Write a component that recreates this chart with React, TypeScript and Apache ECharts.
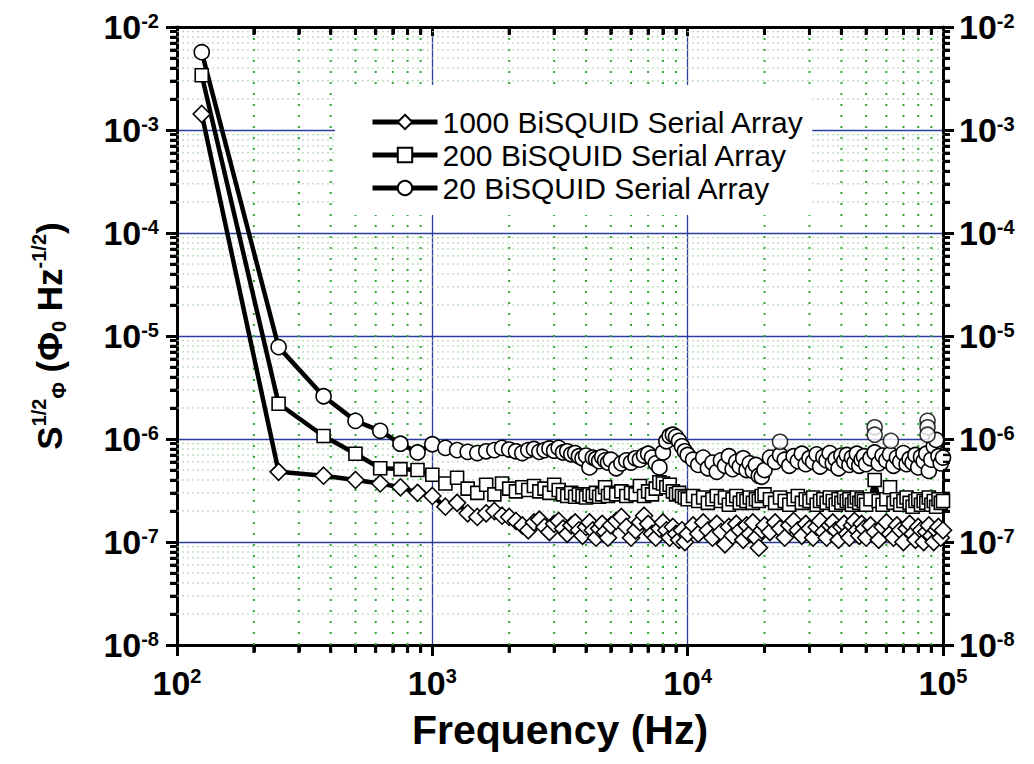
import React, { useEffect, useRef } from "react";
import * as echarts from "echarts";

// Frequencies (Hz) at which the three spectra are sampled
const freqHz = [
  125, 250, 375, 500, 625, 750, 875, 1000, 1125, 1250, 1375, 1500, 1625, 1750, 1875, 2000,
  2125, 2250, 2375, 2500, 2625, 2750, 2875, 3000, 3125, 3250, 3375, 3500, 3625, 3750, 3875, 4000,
  4125, 4250, 4375, 4500, 4625, 4750, 4875, 5000,
  5250, 5500, 5750, 6000, 6250, 6500, 6750, 7000, 7250, 7500,
  7750, 8000, 8250, 8500, 8750, 9000, 9250, 9500, 9750, 10000,
  10500, 11000, 11500, 12000, 12500, 13000, 13500, 14000, 14500, 15000,
  15500, 16000, 16500, 17000, 17500, 18000, 18500, 19000, 19500, 20000,
  21000, 22000, 23000, 24000, 25000, 26000, 27000, 28000, 29000, 30000,
  31000, 32000, 33000, 34000, 35000, 36000, 37000, 38000, 39000, 40000,
  41000, 42000, 43000, 44000, 45000, 46000, 47000, 48000, 49000, 50000,
  52000, 54000, 56000, 58000, 60000, 62000, 64000, 66000, 68000, 70000,
  72000, 74000, 76000, 78000, 80000, 82000, 84000, 86000, 88000, 90000,
  92000, 94000, 96000, 98000, 100000,
];

// 1000 BiSQUID serial array (diamonds)
const noise1000 = [
  1.43e-3, 4.8e-7, 4.4e-7, 4.0e-7, 3.7e-7, 3.4e-7, 3.0e-7, 2.8e-7, 2.2e-7, 2.4e-7, 1.9e-7, 1.75e-7, 1.9e-7, 2.0e-7, 1.8e-7, 1.75e-7,
  1.6e-7, 1.45e-7, 1.3e-7, 1.55e-7, 1.65e-7, 1.4e-7, 1.25e-7, 1.5e-7, 1.6e-7, 1.35e-7,
  1.2e-7, 1.45e-7, 1.55e-7, 1.3e-7, 1.15e-7, 1.4e-7, 1.55e-7, 1.3e-7, 1.1e-7, 1.35e-7,
  1.5e-7, 1.25e-7, 1.1e-7, 1.45e-7,
  1.6e-7, 1.75e-7, 1.4e-7, 1.1e-7, 1.3e-7, 1.55e-7, 1.8e-7, 1.5e-7, 1.2e-7, 1.1e-7,
  1.35e-7, 1.55e-7, 1.3e-7, 1.1e-7, 1.4e-7, 1.2e-7, 1.05e-7, 1.3e-7, 1.0e-7, 1.2e-7,
  1.45e-7, 1.2e-7, 1.55e-7, 1.3e-7, 1.1e-7, 1.5e-7, 1.25e-7, 0.95e-7, 1.4e-7, 1.15e-7,
  1.5e-7, 1.3e-7, 1.05e-7, 1.45e-7, 1.2e-7, 1.55e-7, 1.1e-7, 0.88e-7, 1.3e-7, 1.45e-7,
  1.25e-7, 1.55e-7, 1.35e-7, 1.1e-7, 1.45e-7, 1.6e-7, 1.3e-7, 1.15e-7, 1.5e-7, 1.35e-7,
  1.1e-7, 1.4e-7, 1.6e-7, 1.25e-7, 1.1e-7, 1.45e-7, 1.55e-7, 1.3e-7, 1.05e-7, 1.4e-7,
  1.5e-7, 1.2e-7, 1.1e-7, 1.45e-7, 1.6e-7, 1.3e-7, 1.15e-7, 1.5e-7, 1.35e-7, 1.1e-7,
  1.45e-7, 1.25e-7, 1.05e-7, 1.4e-7, 1.55e-7, 1.2e-7, 1.1e-7, 1.45e-7, 1.3e-7, 1.0e-7,
  1.35e-7, 1.5e-7, 1.2e-7, 1.05e-7, 1.4e-7, 1.3e-7, 1.0e-7, 1.25e-7, 1.45e-7, 1.15e-7,
  1.0e-7, 1.3e-7, 1.4e-7, 1.1e-7, 1.3e-7,
];

// 200 BiSQUID serial array (squares)
const noise200 = [
  3.4e-3, 2.2e-6, 1.07e-6, 7.2e-7, 5.2e-7, 5.1e-7, 5.0e-7, 4.5e-7, 3.7e-7, 4.2e-7, 3.3e-7, 3.0e-7, 3.6e-7, 2.9e-7, 3.7e-7, 3.3e-7,
  3.1e-7, 3.4e-7, 3.2e-7, 3.5e-7, 3.1e-7, 3.3e-7, 3.0e-7, 3.6e-7, 3.2e-7, 2.9e-7,
  2.8e-7, 3.0e-7, 2.75e-7, 2.9e-7, 2.8e-7, 2.7e-7, 2.9e-7, 2.8e-7, 3.0e-7, 2.75e-7,
  2.9e-7, 3.4e-7, 2.8e-7, 3.0e-7,
  2.9e-7, 3.1e-7, 2.8e-7, 3.0e-7, 2.9e-7, 3.5e-7, 2.8e-7, 3.1e-7, 2.9e-7, 3.3e-7,
  3.8e-7, 3.7e-7, 3.4e-7, 3.6e-7, 3.1e-7, 2.9e-7, 3.0e-7, 2.8e-7, 2.7e-7, 2.6e-7,
  2.8e-7, 2.5e-7, 2.7e-7, 2.4e-7, 2.6e-7, 2.8e-7, 2.5e-7, 2.7e-7, 2.3e-7, 2.6e-7,
  2.8e-7, 2.4e-7, 2.6e-7, 2.5e-7, 2.7e-7, 2.4e-7, 2.6e-7, 2.5e-7, 2.8e-7, 2.9e-7,
  2.6e-7, 2.4e-7, 2.7e-7, 2.5e-7, 2.3e-7, 2.6e-7, 2.8e-7, 2.4e-7, 2.6e-7, 2.5e-7,
  2.7e-7, 2.3e-7, 2.5e-7, 2.6e-7, 2.4e-7, 2.7e-7, 2.5e-7, 2.3e-7, 2.6e-7, 2.4e-7,
  2.7e-7, 2.5e-7, 2.6e-7, 2.3e-7, 2.5e-7, 2.7e-7, 2.4e-7, 2.6e-7, 2.5e-7, 2.3e-7,
  2.6e-7, 4.0e-7, 2.5e-7, 2.3e-7, 2.6e-7, 3.4e-7, 2.4e-7, 2.6e-7, 2.3e-7, 2.5e-7,
  2.7e-7, 2.4e-7, 2.2e-7, 2.5e-7, 2.6e-7, 2.3e-7, 2.5e-7, 2.4e-7, 2.7e-7, 2.3e-7,
  2.5e-7, 2.2e-7, 2.6e-7, 2.4e-7, 2.5e-7,
];

// 20 BiSQUID serial array (circles)
const noise20 = [
  5.7e-3, 7.8e-6, 2.6e-6, 1.5e-6, 1.2e-6, 9.0e-7, 7.4e-7, 8.9e-7, 8.2e-7, 7.8e-7, 7.5e-7, 7.3e-7, 7.6e-7, 7.8e-7, 8.2e-7, 7.9e-7,
  7.6e-7, 7.3e-7, 7.8e-7, 8.0e-7, 7.5e-7, 7.8e-7, 8.1e-7, 7.7e-7, 8.2e-7, 7.4e-7,
  7.6e-7, 7.1e-7, 7.3e-7, 6.8e-7, 6.5e-7, 6.9e-7, 5.3e-7, 6.6e-7, 6.4e-7, 6.1e-7,
  6.7e-7, 6.2e-7, 5.9e-7, 6.3e-7,
  5.2e-7, 5.8e-7, 6.2e-7, 5.9e-7, 6.5e-7, 6.3e-7, 6.9e-7, 7.2e-7, 6.6e-7, 5.8e-7,
  5.3e-7, 7.4e-7, 9.5e-7, 1.07e-6, 1.1e-6, 1.05e-6, 9.6e-7, 8.5e-7, 7.6e-7, 7.0e-7,
  6.3e-7, 5.6e-7, 6.6e-7, 5.2e-7, 5.9e-7, 4.8e-7, 6.2e-7, 5.5e-7, 6.8e-7, 5.1e-7,
  6.0e-7, 5.4e-7, 6.5e-7, 5.0e-7, 5.8e-7, 4.9e-7, 5.6e-7, 4.4e-7, 4.3e-7, 5.0e-7,
  6.6e-7, 6.0e-7, 7.0e-7, 6.3e-7, 5.5e-7, 6.8e-7, 6.1e-7, 7.2e-7, 5.7e-7, 6.5e-7,
  6.0e-7, 7.1e-7, 5.4e-7, 6.7e-7, 6.2e-7, 7.3e-7, 5.8e-7, 6.4e-7, 5.2e-7, 6.9e-7,
  6.1e-7, 7.0e-7, 5.6e-7, 6.6e-7, 5.9e-7, 7.2e-7, 5.5e-7, 6.3e-7, 6.8e-7, 5.7e-7,
  6.5e-7, 7.4e-7, 5.8e-7, 6.9e-7, 6.2e-7, 7.1e-7, 5.5e-7, 6.6e-7, 6.0e-7, 7.3e-7,
  5.7e-7, 6.4e-7, 5.9e-7, 7.0e-7, 5.3e-7, 6.7e-7, 6.1e-7, 7.2e-7, 4.9e-7, 6.3e-7,
  8.5e-7, 9.8e-7, 6.8e-7, 5.8e-7, 6.6e-7,
];

// isolated spikes recorded on top of the 20-array spectrum
const spikes20: [number, number][] = [
  [23000, 9.4e-7], [54000, 1.3e-6], [54000, 1.1e-6], [62500, 9.6e-7],
  [87000, 1.5e-6], [87000, 1.3e-6], [87000, 1.1e-6],
];

const seriesNames = [
  "1000 BiSQUID Serial Array",
  "200 BiSQUID Serial Array",
  "20 BiSQUID Serial Array",
];

// minor tick positions
const xMinorTicks = [
  200, 300, 400, 500, 600, 700, 800, 900,
  2000, 3000, 4000, 5000, 6000, 7000, 8000, 9000,
  20000, 30000, 40000, 50000, 60000, 70000, 80000, 90000,
];
const yMinorMantissas = [2, 3, 4, 5, 6, 7, 8, 9];
const yDecades = [-8, -7, -6, -5, -4, -3];
const yMinorTicks = yDecades.flatMap((e) => yMinorMantissas.map((m) => m * Math.pow(10, e)));

const FONT = "'Liberation Sans', Arial, sans-serif";

const powLabel = (v: number) => {
  const e = Math.round(Math.log10(v));
  return `{b|10}{s|${e}}`;
};

const labelRich = {
  b: { fontSize: 34, fontWeight: "bold", fontFamily: FONT, color: "#000", lineHeight: 33 },
  s: { fontSize: 20, fontWeight: "bold", fontFamily: FONT, color: "#000", lineHeight: 18, verticalAlign: "top" },
};

const X_RANGE = { min: 100, max: 100000 };
const Y_RANGE = { min: 1e-8, max: 1e-2 };

const minorAxis = (position: string, values: number[], inside: boolean, range: any) => ({
  type: "log",
  logBase: 10,
  ...range,
  position,
  axisLine: { show: false, onZero: false },
  axisTick: { show: true, inside, length: 7, customValues: values, lineStyle: { color: "#000", width: 3 } },
  axisLabel: { show: false },
  splitLine: { show: false },
  silent: true,
});

export default function App() {
  const ref = useRef<HTMLDivElement>(null);

  useEffect(() => {
    document.body.style.margin = "0";
    if (!ref.current) return;
    const chart = echarts.init(ref.current, null, { renderer: "svg" });

    const lineData = (vals: number[]) => freqHz.map((f, i) => [f, vals[i]]);

    const common = {
      type: "line",
      showAllSymbol: true,
      lineStyle: { color: "#000", width: 4.5 },
      itemStyle: { color: "#fff", borderColor: "#000", borderWidth: 1.6 },
      z: 5,
    };

    const xMinorRender = (params: any, api: any) => {
      const cs = params.coordSys;
      const x = api.coord([api.value(0), 1e-5])[0];
      return {
        type: "line",
        shape: { x1: x, y1: cs.y, x2: x, y2: cs.y + cs.height },
        style: { stroke: "#2ea82e", lineWidth: 2, lineDash: [2, 9] },
      };
    };

    const yMinorRender = (params: any, api: any) => {
      const cs = params.coordSys;
      const y = api.coord([1000, api.value(1)])[1];
      return {
        type: "line",
        shape: { x1: cs.x, y1: y, x2: cs.x + cs.width, y2: y },
        style: { stroke: "#a6cfa6", lineWidth: 1, lineDash: [2, 3] },
      };
    };

    // minor tick marks drawn as small filled bars
    const bottomTick = (params: any, api: any) => {
      const cs = params.coordSys;
      const x = api.coord([api.value(0), 1e-5])[0];
      return { type: "rect", shape: { x: x - 1.5, y: cs.y + cs.height, width: 3, height: 8 }, style: { fill: "#000" } };
    };
    const topTick = (params: any, api: any) => {
      const cs = params.coordSys;
      const x = api.coord([api.value(0), 1e-5])[0];
      return { type: "rect", shape: { x: x - 1.5, y: cs.y, width: 3, height: 8 }, style: { fill: "#000" } };
    };
    const leftTick = (params: any, api: any) => {
      const cs = params.coordSys;
      const y = api.coord([1000, api.value(1)])[1];
      return { type: "rect", shape: { x: cs.x - 7, y: y - 1.2, width: 7, height: 2.4 }, style: { fill: "#000" } };
    };
    const rightTick = (params: any, api: any) => {
      const cs = params.coordSys;
      const y = api.coord([1000, api.value(1)])[1];
      return { type: "rect", shape: { x: cs.x + cs.width, y: y - 1.2, width: 7, height: 2.4 }, style: { fill: "#000" } };
    };

    const xMinorData = xMinorTicks.map((v) => [v, 1e-5]);
    const yMinorData = yMinorTicks.map((v) => [1000, v]);
    const tickSeries = (renderItem: any, data: any) => ({
      type: "custom",
      silent: true,
      clip: false,
      z: 8,
      renderItem,
      data,
      encode: { x: 0, y: 1 },
    });

    const option: any = {
      animation: false,
      backgroundColor: "#fff",
      textStyle: { fontFamily: FONT },
      grid: { left: 177, right: 91, top: 27, bottom: 119, containLabel: false },
      legend: {
        data: seriesNames,
        orient: "vertical",
        left: 335,
        top: 85,
        padding: [22, 8, 12, 35],
        backgroundColor: "#fff",
        itemWidth: 65,
        itemHeight: 18,
        itemGap: 3,
        itemTextGap: 12,
        lineStyle: { width: 5 },
        textStyle: { fontSize: 30, fontFamily: FONT, color: "#000", lineHeight: 30 },
        z: 20,
      },
      xAxis: [
        {
          type: "log",
          logBase: 10,
          ...X_RANGE,
          splitNumber: 3,
          position: "bottom",
          name: "Frequency (Hz)",
          nameLocation: "middle",
          nameGap: 64,
          nameTextStyle: { fontSize: 41, fontWeight: "bold", fontFamily: FONT, color: "#000" },
          axisLine: { show: true, onZero: false, lineStyle: { color: "#000", width: 3 } },
          axisTick: { show: true, inside: false, length: 11, lineStyle: { color: "#000", width: 3 } },
          axisLabel: { margin: 21, formatter: powLabel, rich: labelRich },
          splitLine: { show: true, lineStyle: { color: "#2a3c9e", width: 1.3 } },
        },
        {
          type: "log",
          logBase: 10,
          ...X_RANGE,
          splitNumber: 3,
          position: "top",
          axisLine: { show: true, onZero: false, lineStyle: { color: "#000", width: 3 } },
          axisTick: { show: true, inside: true, length: 9, lineStyle: { color: "#000", width: 3 } },
          axisLabel: { show: false },
          splitLine: { show: false },
        },
        minorAxis("bottom", xMinorTicks, false, X_RANGE),
        minorAxis("top", xMinorTicks, true, X_RANGE),
      ],
      yAxis: [
        {
          type: "log",
          logBase: 10,
          ...Y_RANGE,
          splitNumber: 6,
          position: "left",
          name: "{S|S}{sup|1/2}{sub|Φ}{t| (Φ}{sub|0}{t| Hz}{sup|-1/2}{t|)}",
          nameLocation: "middle",
          nameRotate: 90,
          nameGap: 108,
          nameTextStyle: {
            rich: {
              S: { fontSize: 35, fontWeight: "bold", fontFamily: FONT, color: "#000", lineHeight: 40 },
              t: { fontSize: 35, fontWeight: "bold", fontFamily: FONT, color: "#000", lineHeight: 40 },
              sup: { fontSize: 20, fontWeight: "bold", fontFamily: FONT, color: "#000", lineHeight: 20, verticalAlign: "top" },
              sub: { fontSize: 20, fontWeight: "bold", fontFamily: FONT, color: "#000", lineHeight: 20, verticalAlign: "bottom" },
            },
          },
          axisLine: { show: true, onZero: false, lineStyle: { color: "#000", width: 3 } },
          axisTick: { show: true, inside: false, length: 11, lineStyle: { color: "#000", width: 3 } },
          axisLabel: { margin: 18, formatter: powLabel, rich: labelRich },
          splitLine: { show: true, lineStyle: { color: "#2a3c9e", width: 1.3 } },
        },
        {
          type: "log",
          logBase: 10,
          ...Y_RANGE,
          splitNumber: 6,
          position: "right",
          axisLine: { show: true, onZero: false, lineStyle: { color: "#000", width: 3 } },
          axisTick: { show: true, inside: false, length: 11, lineStyle: { color: "#000", width: 3 } },
          axisLabel: { margin: 16, formatter: powLabel, rich: labelRich },
          splitLine: { show: false },
        },
        minorAxis("left", yMinorTicks, false, Y_RANGE),
        minorAxis("right", yMinorTicks, false, Y_RANGE),
      ],
      series: [
        {
          type: "custom",
          name: "xminor",
          silent: true,
          z: 1,
          renderItem: xMinorRender,
          data: xMinorData,
          encode: { x: 0, y: 1 },
        },
        {
          type: "custom",
          name: "yminor",
          silent: true,
          z: 1,
          renderItem: yMinorRender,
          data: yMinorData,
          encode: { x: 0, y: 1 },
        },
        tickSeries(bottomTick, xMinorData),
        tickSeries(topTick, xMinorData),
        tickSeries(leftTick, yMinorData),
        tickSeries(rightTick, yMinorData),
        {
          ...common,
          name: seriesNames[2],
          symbol: "circle",
          symbolSize: 15,
          data: lineData(noise20),
        },
        {
          type: "scatter",
          name: "spikes20",
          symbol: "circle",
          symbolSize: 15,
          itemStyle: { color: "#fff", borderColor: "#000", borderWidth: 1.6 },
          data: spikes20,
          z: 5,
        },
        {
          ...common,
          name: seriesNames[1],
          symbol: "rect",
          symbolSize: 13,
          data: lineData(noise200),
        },
        {
          ...common,
          name: seriesNames[0],
          symbol: "diamond",
          symbolSize: 17,
          data: lineData(noise1000),
        },
      ],
    };

    chart.setOption(option);
    return () => chart.dispose();
  }, []);

  return <div ref={ref} style={{ width: 1034, height: 764 }} />;
}
